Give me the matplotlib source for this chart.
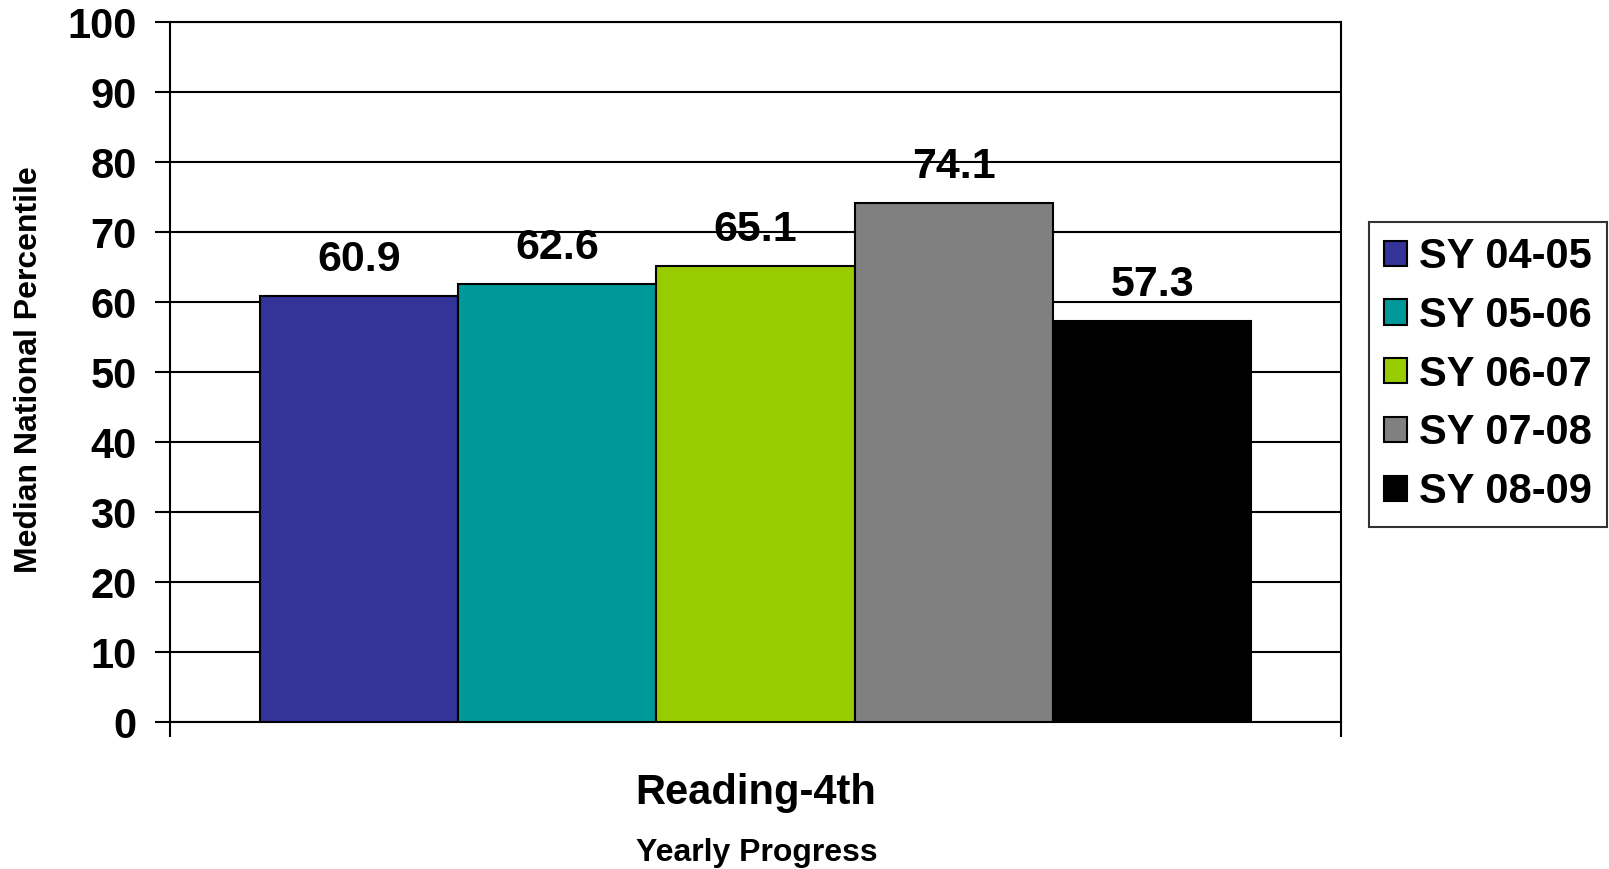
import matplotlib.pyplot as plt
import numpy as np

plt.rcParams['font.family'] = ['Liberation Sans', 'DejaVu Sans']
plt.rcParams['font.weight'] = 'bold'

# data
years = ['SY 04-05', 'SY 05-06', 'SY 06-07', 'SY 07-08', 'SY 08-09']
values = [60.9, 62.6, 65.1, 74.1, 57.3]
colors = ['#333399', '#009999', '#99CC00', '#808080', '#000000']
category = 'Reading-4th'

fig = plt.figure(figsize=(16.09, 8.69), dpi=100)
ax = fig.add_axes([170 / 1609, 1 - 722 / 869, (1341 - 170) / 1609, 700 / 869])

width = 0.1694
offsets = (np.arange(len(years)) - (len(years) - 1) / 2) * width
for off, v, c, lab in zip(offsets, values, colors, years):
    ax.bar(off, v, width, color=c, edgecolor='black', linewidth=1.5, label=lab, zorder=3)
    ax.annotate(f'{v}', (off, v), xytext=(0, 18), textcoords='offset points',
                ha='center', va='baseline', fontsize=31, fontweight='bold')

ax.set_xlim(-0.5, 0.5)
ax.set_ylim(0, 100)
ax.set_yticks(np.arange(0, 101, 10))
ax.yaxis.grid(True, color='black', linewidth=1.5, zorder=0)
ax.set_axisbelow(True)
ax.tick_params(axis='y', length=11, width=1.5, pad=13, labelsize=30)
for lbl in ax.get_yticklabels():
    lbl.set_fontweight('bold')

ax.set_xticks([-0.5, 0.5])
ax.set_xticklabels([])
ax.tick_params(axis='x', length=11, width=1.5)
ax.set_xticks([0], minor=True)
ax.set_xticklabels([category], minor=True, fontsize=30, fontweight='bold')
ax.tick_params(axis='x', which='minor', length=0, pad=37)

for s in ax.spines.values():
    s.set_linewidth(1.5)
    s.set_color('black')

fig.text(757 / 1609, 1 - 861 / 869, 'Yearly Progress', ha='center', va='baseline',
         fontsize=23, fontweight='bold')
fig.text(29 / 1609, 1 - 370 / 869, 'Median National Percentile', ha='center', va='center',
         rotation=90, fontsize=23, fontweight='bold')

leg = fig.legend(loc='center', bbox_to_anchor=((1368 + 1608) / 2 / 1609, 1 - (224 + 525) / 2 / 869),
                 prop={'size': 30, 'weight': 'bold'}, frameon=True, fancybox=False,
                 handlelength=0.55, handleheight=0.55, handletextpad=0.3,
                 labelspacing=0.45, borderpad=0.35)
leg.get_frame().set_edgecolor('black')
leg.get_frame().set_linewidth(1.5)

fig.savefig('out.png', dpi=100)
